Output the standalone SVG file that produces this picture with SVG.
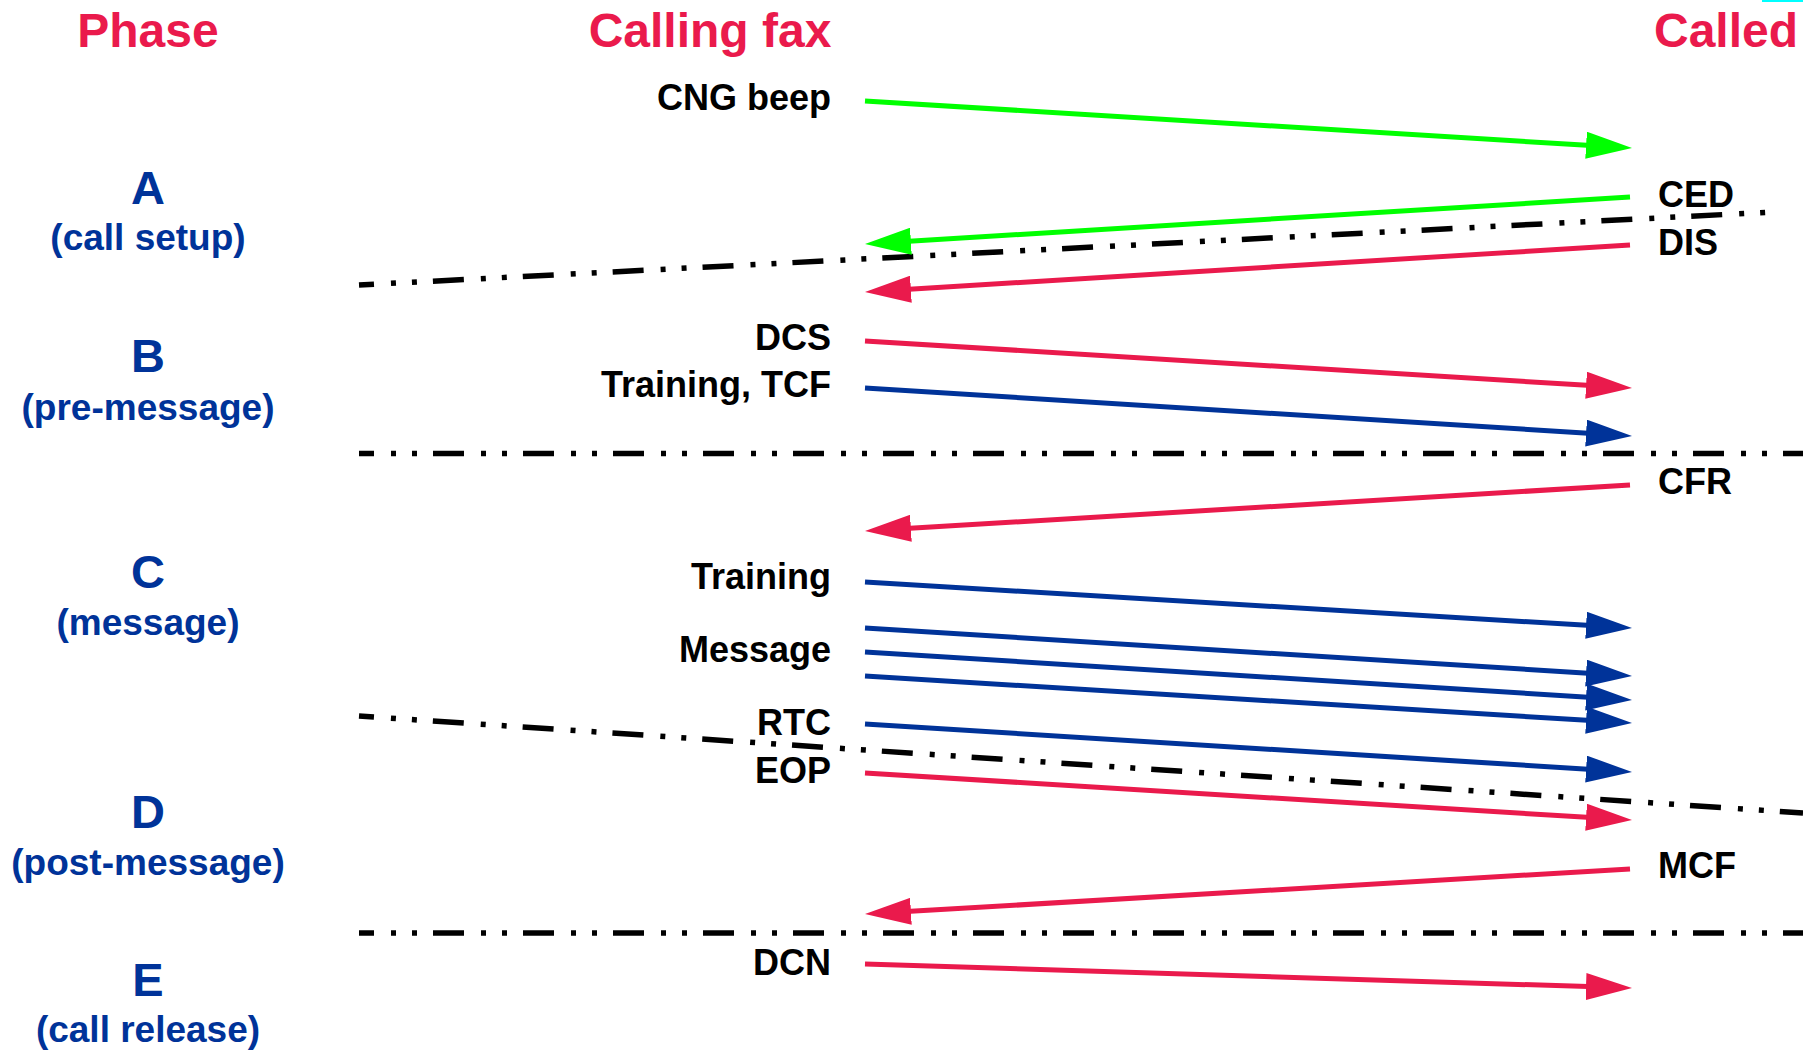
<svg xmlns="http://www.w3.org/2000/svg" width="1803" height="1053" viewBox="0 0 1803 1053">
  <style>
    text { font-family: "Liberation Sans", Arial, sans-serif; font-weight: bold; }
    .head { font-size: 48px; fill: #EA1A4C; text-anchor: middle; }
    .phase { font-size: 47px; fill: #003399; text-anchor: middle; }
    .sub { font-size: 37px; fill: #003399; text-anchor: middle; }
    .msg { font-size: 36px; fill: #000000; }
    .out { text-anchor: end; }
    .in { text-anchor: start; }
    .sep { stroke: #000000; stroke-width: 5.5; fill: none; stroke-dasharray: 31 17 5 16 5 16; stroke-dashoffset: 16; }
    .arr { stroke-width: 5; fill: none; }
    .green { stroke: #00FF00; marker-end: url(#ah-green); }
    .red { stroke: #EA1A4C; marker-end: url(#ah-red); }
    .blue { stroke: #003399; marker-end: url(#ah-blue); }
  </style>
  <defs>
    <marker id="ah-green" markerUnits="userSpaceOnUse" markerWidth="46" markerHeight="27" viewBox="0 0 46 27" refX="26" refY="13.5" orient="auto">
      <path d="M0,0 L46,13.5 L0,27 z" fill="#00FF00"/>
    </marker>
    <marker id="ah-red" markerUnits="userSpaceOnUse" markerWidth="46" markerHeight="27" viewBox="0 0 46 27" refX="26" refY="13.5" orient="auto">
      <path d="M0,0 L46,13.5 L0,27 z" fill="#EA1A4C"/>
    </marker>
    <marker id="ah-blue" markerUnits="userSpaceOnUse" markerWidth="46" markerHeight="27" viewBox="0 0 46 27" refX="26" refY="13.5" orient="auto">
      <path d="M0,0 L46,13.5 L0,27 z" fill="#003399"/>
    </marker>
  </defs>

  <rect width="1803" height="1053" fill="#FFFFFF"/>
  <rect x="1762" y="0" width="41" height="2" fill="#00FFFF"/>

  <!-- column headings -->
  <g id="headings">
    <text class="head" x="148" y="47">Phase</text>
    <text class="head" x="710" y="47">Calling fax</text>
    <text class="head" x="1726" y="47">Called</text>
  </g>

  <!-- phases -->
  <g id="phase-a">
    <text class="phase" x="148" y="204">A</text>
    <text class="sub" x="148" y="250">(call setup)</text>
  </g>
  <g id="phase-b">
    <text class="phase" x="148" y="372">B</text>
    <text class="sub" x="148" y="420">(pre-message)</text>
  </g>
  <g id="phase-c">
    <text class="phase" x="148" y="588">C</text>
    <text class="sub" x="148" y="635">(message)</text>
  </g>
  <g id="phase-d">
    <text class="phase" x="148" y="828">D</text>
    <text class="sub" x="148" y="875">(post-message)</text>
  </g>
  <g id="phase-e">
    <text class="phase" x="148" y="996">E</text>
    <text class="sub" x="148" y="1042">(call release)</text>
  </g>

  <!-- phase boundaries -->
  <g id="boundaries">
    <line class="sep" x1="359" y1="285" x2="1773" y2="212"/>
    <line class="sep" x1="359" y1="453.5" x2="1803" y2="453.5"/>
    <line class="sep" x1="359" y1="716" x2="1803" y2="813"/>
    <line class="sep" x1="359" y1="933" x2="1803" y2="933"/>
  </g>

  <!-- signal labels -->
  <g id="labels-calling">
    <text class="msg out" x="831" y="110">CNG beep</text>
    <text class="msg out" x="831" y="350">DCS</text>
    <text class="msg out" x="831" y="397">Training, TCF</text>
    <text class="msg out" x="831" y="589">Training</text>
    <text class="msg out" x="831" y="662">Message</text>
    <text class="msg out" x="831" y="735">RTC</text>
    <text class="msg out" x="831" y="783">EOP</text>
    <text class="msg out" x="831" y="975">DCN</text>
  </g>
  <g id="labels-called">
    <text class="msg in" x="1658" y="207">CED</text>
    <text class="msg in" x="1658" y="255">DIS</text>
    <text class="msg in" x="1658" y="494">CFR</text>
    <text class="msg in" x="1658" y="878">MCF</text>
  </g>

  <!-- signal arrows -->
  <g id="connectors">
    <line class="arr green" x1="865" y1="101" x2="1612.04" y2="146.78"/>
    <line class="arr green" x1="1630" y1="197" x2="884.96" y2="242.77"/>
    <line class="arr red" x1="1630" y1="245" x2="884.96" y2="290.77"/>
    <line class="arr red" x1="865" y1="341" x2="1612.04" y2="386.78"/>
    <line class="arr blue" x1="865" y1="388" x2="1612.04" y2="434.75"/>
    <line class="arr red" x1="1630" y1="485" x2="884.96" y2="529.8"/>
    <line class="arr blue" x1="865" y1="582" x2="1612.04" y2="626.8"/>
    <line class="arr blue" x1="865" y1="628" x2="1612.04" y2="674.75"/>
    <line class="arr blue" x1="865" y1="652" x2="1612.04" y2="698.75"/>
    <line class="arr blue" x1="865" y1="676" x2="1612.04" y2="721.8"/>
    <line class="arr blue" x1="865" y1="724" x2="1612.04" y2="770.75"/>
    <line class="arr red" x1="865" y1="773" x2="1612.04" y2="818.78"/>
    <line class="arr red" x1="1630" y1="869" x2="884.96" y2="912.83"/>
    <line class="arr red" x1="865" y1="964" x2="1612.01" y2="987.37"/>
  </g>
</svg>
